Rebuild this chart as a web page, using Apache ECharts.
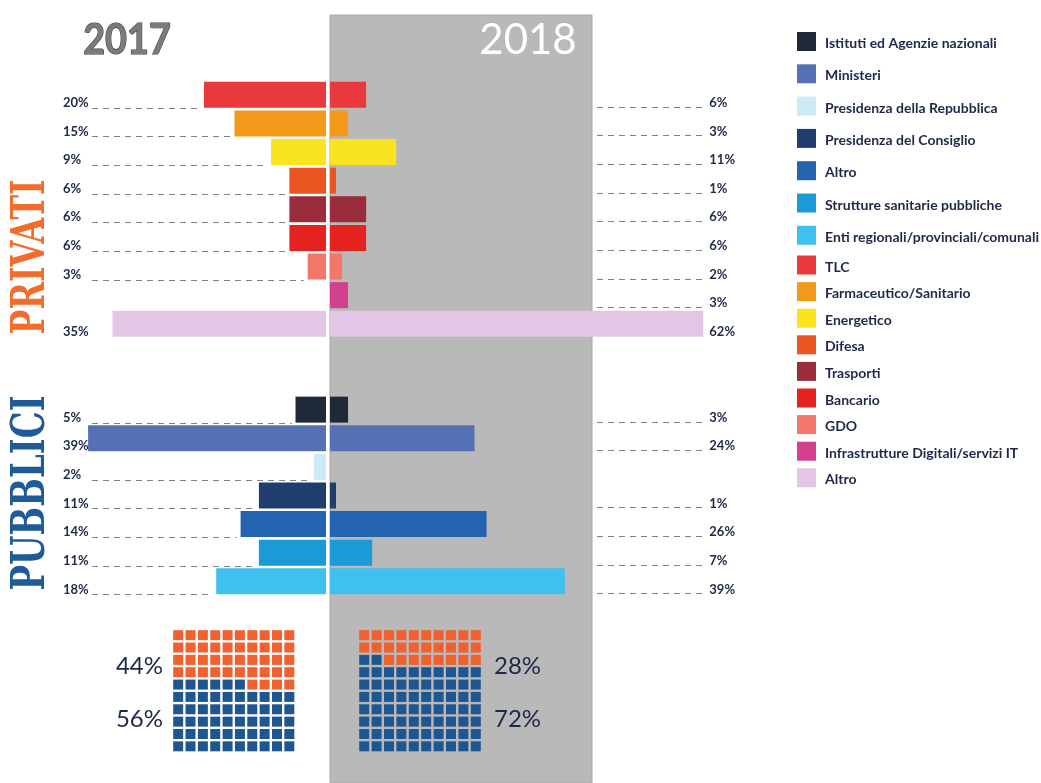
<!DOCTYPE html>
<html>
<head>
<meta charset="utf-8">
<title>Privati / Pubblici 2017-2018</title>
<script src="https://cdn.jsdelivr.net/npm/echarts@6/dist/echarts.min.js"></script>
<style>
  html, body { margin: 0; padding: 0; background: #fff; }
  #chart { width: 1041px; height: 783px; }
</style>
</head>
<body>
<div id="chart"></div>
<script>
// --- data ---
const privatiNames = ['TLC', 'Farmaceutico/Sanitario', 'Energetico', 'Difesa', 'Trasporti', 'Bancario', 'GDO', 'Infrastrutture Digitali/servizi IT', 'Altro'];
const privati2017 = [20, 15, 9, 6, 6, 6, 3, null, 35];
const privati2018 = [6, 3, 11, 1, 6, 6, 2, 3, 62];
const privatiColors = ['#e8393c', '#f39a1b', '#fae31f', '#ea5621', '#9a2c3c', '#e4221f', '#f3766b', '#d3418e', '#e3c6e6'];

const pubbliciNames = ['Istituti ed Agenzie nazionali', 'Ministeri', 'Presidenza della Repubblica', 'Presidenza del Consiglio', 'Altro', 'Strutture sanitarie pubbliche', 'Enti regionali/provinciali/comunali'];
const pubblici2017 = [5, 39, 2, 11, 14, 11, 18];
const pubblici2018 = [3, 24, null, 1, 26, 7, 39];
const pubbliciColors = ['#1f2a38', '#5571b3', '#cde9f4', '#1f3e6d', '#2363b0', '#1b9ad8', '#40c0ef'];

const years = ['2017', '2018'];
const privatiShare = [44, 28];   // waffle, orange part
const pubbliciShare = [56, 72];  // waffle, blue part

// --- layout ---
const TEXT = '#1e2848';
const GAP_SLOTS = 2;
const categories = privatiNames.concat(new Array(GAP_SLOTS).fill(''), pubbliciNames);
const values2017 = privati2017.concat(new Array(GAP_SLOTS).fill(null), pubblici2017);
const values2018 = privati2018.concat(new Array(GAP_SLOTS).fill(null), pubblici2018);
const colors = privatiColors.concat(new Array(GAP_SLOTS).fill('#fff'), pubbliciColors);

const TOP = 80.5, PITCH = 28.62, BAR = 26;
const GRID_H = PITCH * categories.length;
const LEFT_DASH_X = 92;
const PANEL = { x: 330, y: 15, w: 262 };

const chart = echarts.init(document.getElementById('chart'), null, { renderer: 'canvas' });

function measure(text, font) {
  const ctx = document.createElement('canvas').getContext('2d');
  ctx.font = font;
  return ctx.measureText(text).width;
}

function barData(values) {
  return values.map((v, i) => v == null ? null : { value: v, itemStyle: { color: colors[i] } });
}

function pctLabel(values) {
  return function (val, idx) {
    return values[idx] == null ? '' : values[idx] + '%';
  };
}

function waffleCells(bluePct) {
  const cells = [];
  for (let r = 0; r < 10; r++) {
    for (let c = 0; c < 10; c++) {
      const fromBottom = (9 - r) * 10 + c;
      cells.push([c + 0.5, r + 0.5, fromBottom < bluePct ? 1 : 0]);
    }
  }
  return cells;
}

const labelStyle = {
  show: true, interval: 0, color: TEXT, fontFamily: 'Lato', fontWeight: 'bold', fontSize: 13,
  align: 'left', verticalAlign: 'top', lineHeight: 16
};

// graphic: panel, titles, vertical section titles, legend, waffle labels
const graphics = [];
graphics.push({
  type: 'rect', z: -10, silent: true,
  shape: { x: PANEL.x, y: PANEL.y, width: PANEL.w, height: 783 - PANEL.y },
  style: { fill: '#b9b9b9', stroke: '#a8a8a8', lineWidth: 1 }
});
graphics.push({
  type: 'text', x: 127, y: 40, scaleX: 0.9,
  style: { text: years[0], fontFamily: 'Lato', fontWeight: 'bold', fontSize: 42, fill: '#7b7b7b',
    stroke: '#3d3d3d', lineWidth: 1.2, align: 'center', verticalAlign: 'middle' }
});
graphics.push({
  type: 'text', x: 528, y: 40,
  style: { text: years[1], fontFamily: 'Lato', fontSize: 42, fill: '#ffffff', align: 'center', verticalAlign: 'middle' }
});

const sectionFont = 'bold 50px "DejaVu Serif"';
[['PRIVATI', '#f26c2b', 257, 155], ['PUBBLICI', '#1f5b98', 493, 195]].forEach(s => {
  graphics.push({
    type: 'text', x: 32, y: s[2], rotation: Math.PI / 2,
    scaleX: s[3] / measure(s[0], sectionFont), scaleY: 0.95,
    style: { text: s[0], font: sectionFont, fill: s[1], align: 'center', verticalAlign: 'middle' }
  });
});

// legend
function legendItems(names, cols, y0, step) {
  names.forEach((n, i) => {
    const y = y0 + i * step;
    graphics.push({ type: 'rect', shape: { x: 797, y: y - 9.5, width: 19, height: 19 }, style: { fill: cols[i] } });
    graphics.push({
      type: 'text', x: 825, y: y + 2,
      style: { text: n, fontFamily: 'Lato', fontWeight: 'bold', fontSize: 14, fill: TEXT, align: 'left', verticalAlign: 'middle' }
    });
  });
}
legendItems(pubbliciNames, pubbliciColors, 41.5, 32.3);
legendItems(privatiNames, privatiColors, 265, 26.6);

// waffle percentage labels
[[163, 'right', 0], [494, 'left', 1]].forEach(w => {
  const i = w[2];
  graphics.push({ type: 'text', x: w[0], y: 666,
    style: { text: privatiShare[i] + '%', fontFamily: 'Lato', fontSize: 24, fill: TEXT, align: w[1], verticalAlign: 'middle' } });
  graphics.push({ type: 'text', x: w[0], y: 719,
    style: { text: pubbliciShare[i] + '%', fontFamily: 'Lato', fontSize: 24, fill: TEXT, align: w[1], verticalAlign: 'middle' } });
});

const dashStyle = { stroke: '#808080', lineWidth: 1, lineDash: [6, 5] };
const waffleStyle = { opacity: 1, color: p => p.data[2] ? '#20568f' : '#f0612f' };

const option = {
  animation: false,
  backgroundColor: '#ffffff',
  graphic: { elements: graphics },
  grid: [
    { left: 82, top: TOP, width: 244, height: GRID_H, outerBoundsMode: 'none' },
    { left: 330, top: TOP, width: 379.3, height: GRID_H, outerBoundsMode: 'none' },
    { left: 172, top: 629, width: 123.5, height: 123.5, outerBoundsMode: 'none' },
    { left: 358, top: 629, width: 124, height: 123.5, outerBoundsMode: 'none' }
  ],
  xAxis: [
    { type: 'value', gridIndex: 0, min: 0, max: 40, inverse: true, show: false },
    { type: 'value', gridIndex: 1, min: 0, max: 63, show: false },
    { type: 'value', gridIndex: 2, min: 0, max: 10, show: false },
    { type: 'value', gridIndex: 3, min: 0, max: 10, show: false }
  ],
  yAxis: [
    { type: 'category', gridIndex: 0, data: categories, inverse: true, position: 'left',
      axisLine: { show: false }, axisTick: { show: false }, splitLine: { show: false },
      axisLabel: Object.assign({}, labelStyle, { margin: 19, formatter: pctLabel(values2017) }) },
    { type: 'category', gridIndex: 1, data: categories, inverse: true, position: 'right',
      axisLine: { show: false }, axisTick: { show: false }, splitLine: { show: false },
      axisLabel: Object.assign({}, labelStyle, { margin: 0, formatter: pctLabel(values2018) }) },
    { type: 'value', gridIndex: 2, min: 0, max: 10, inverse: true, show: false },
    { type: 'value', gridIndex: 3, min: 0, max: 10, inverse: true, show: false }
  ],
  series: [
    { name: '2017', type: 'bar', xAxisIndex: 0, yAxisIndex: 0, barWidth: BAR, data: barData(values2017), z: 3 },
    { name: '2018', type: 'bar', xAxisIndex: 1, yAxisIndex: 1, barWidth: BAR, data: barData(values2018), z: 3 },
    {
      type: 'custom', xAxisIndex: 0, yAxisIndex: 0, silent: true, z: 2,
      data: values2017.map((v, i) => [v == null ? 0 : v, i, v == null ? 0 : 1]),
      renderItem: function (params, api) {
        if (!api.value(2)) return;
        const p = api.coord([api.value(0), api.value(1)]);
        const y = Math.round(p[1] + BAR / 2) + 0.5;
        const x2 = p[0] - 4;
        if (x2 - LEFT_DASH_X < 30) return;
        return { type: 'line', shape: { x1: LEFT_DASH_X, y1: y, x2: x2, y2: y }, style: dashStyle };
      }
    },
    {
      type: 'custom', xAxisIndex: 1, yAxisIndex: 1, silent: true, z: 2,
      data: values2018.map((v, i) => [v == null ? 0 : v, i, v == null ? 0 : 1]),
      renderItem: function (params, api) {
        if (!api.value(2)) return;
        const p = api.coord([api.value(0), api.value(1)]);
        const x1 = PANEL.x + PANEL.w + 5;
        if (p[0] > x1 - 5) return;
        const y = Math.round(p[1] + BAR / 2) - 0.5;
        return { type: 'line', shape: { x1: x1, y1: y, x2: 706, y2: y }, style: dashStyle };
      }
    },
    {
      type: 'scatter', xAxisIndex: 2, yAxisIndex: 2, symbol: 'rect', symbolSize: 10, silent: true,
      data: waffleCells(pubbliciShare[0]), itemStyle: waffleStyle
    },
    {
      type: 'scatter', xAxisIndex: 3, yAxisIndex: 3, symbol: 'rect', symbolSize: 10, silent: true,
      data: waffleCells(pubbliciShare[1]), itemStyle: waffleStyle
    }
  ]
};

chart.setOption(option);
</script>
</body>
</html>
